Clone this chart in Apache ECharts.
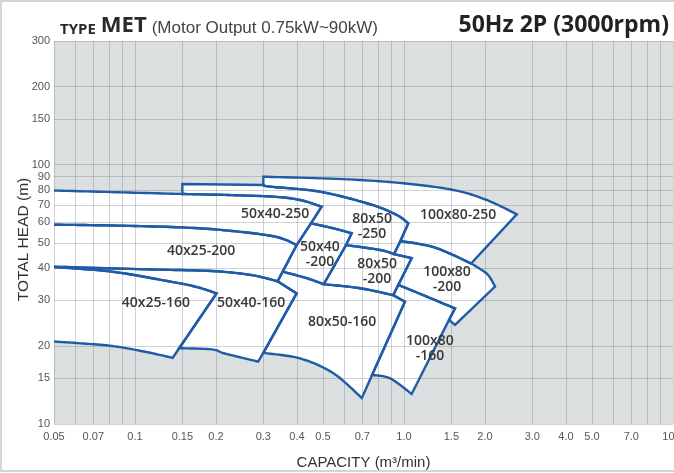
<!DOCTYPE html>
<html><head><meta charset="utf-8">
<script src="https://cdn.jsdelivr.net/npm/echarts@6/dist/echarts.min.js"></script>
<style>html,body{margin:0;padding:0;background:#fff}#c{width:674px;height:473px}</style>
</head><body><div id="c"></div>
<script>
// ---------- axis ticks ----------
const xTickValues = [0.05,0.07,0.1,0.15,0.2,0.3,0.4,0.5,0.7,1,1.5,2,3,4,5,7,10];
const xTickLabels = ['0.05','0.07','0.1','0.15','0.2','0.3','0.4','0.5','0.7','1.0','1.5','2.0','3.0','4.0','5.0','7.0','10.0'];
const xGridValues = [0.05,0.06,0.07,0.08,0.09,0.1,0.15,0.2,0.3,0.4,0.5,0.6,0.7,0.8,0.9,1,1.5,2,3,4,5,6,7,8,9,10];
const yTickValues = [10,15,20,30,40,50,60,70,80,90,100,150,200,300];

// ---------- boundary curves [capacity m3/min, head m] ----------
// 40x25-160
const e1_top = [[0.045,40.5],[0.05,40.3],[0.082,38.7],[0.126,35.9],[0.167,33.9],[0.201,31.9]];
const e1_rightA = [[0.201,31.9],[0.146,19.6]];
const e1_rightB = [[0.146,19.6],[0.138,18.0]];
const e1_bot = [[0.138,18.0],[0.109,19.0],[0.082,20.0],[0.0616,20.5],[0.05,20.8],[0.045,20.9]];
// 50x40-160
const e2_top = [[0.045,40.5],[0.05,40.4],[0.109,39.5],[0.193,38.9],[0.272,37.5],[0.339,35.5]];
const e2_top2 = [[0.339,35.5],[0.399,31.9]];
const e2_rightA = [[0.399,31.9],[0.300,18.8]];
const e2_rightB = [[0.300,18.8],[0.287,17.4]];
const e2_bot = [[0.287,17.4],[0.216,18.7],[0.193,19.4],[0.146,19.6]];
// 40x25-200
const e3_top = [[0.045,58.8],[0.05,58.7],[0.082,58.3],[0.149,57.3],[0.222,55.7],[0.332,52.8],[0.399,49.0]];
const e3_rightA = [[0.399,49.0],[0.354,38.7]];
const e3_rightB = [[0.354,38.7],[0.339,35.5]];
// 50x40-250
const e4_topA = [[0.045,79.6],[0.05,79.5],[0.09,78.2],[0.15,77.1]];
const e4_topB = [[0.15,77.1],[0.222,76.4],[0.327,75.3],[0.411,73.1],[0.494,68.9]];
const e4_rightA = [[0.494,68.9],[0.451,59.4]];
const e4_rightB = [[0.451,59.4],[0.399,49.0]];
// 80x50-250
const e5_left = [[0.15,77.1],[0.15,84.2]];
const e5_topA = [[0.15,84.2],[0.300,83.5]];
const e5_topB = [[0.300,83.5],[0.318,82.3],[0.487,78.7],[0.748,70.4],[0.940,64.0],[1.037,59.4]];
const e5_rightA = [[1.037,59.4],[0.970,50.8]];
const e5_rightB = [[0.970,50.8],[0.918,45.2]];
// 50x40-200
const e6_top = [[0.451,59.4],[0.540,57.0],[0.639,54.4]];
const e6_rightA = [[0.639,54.4],[0.609,49.0]];
const e6_rightB = [[0.609,49.0],[0.503,34.6]];
const e6_bot = [[0.503,34.6],[0.435,36.5],[0.354,38.7]];
// 80x50-200
const e7_topA = [[0.609,49.0],[0.815,46.9],[0.918,45.2]];
const e7_topB = [[0.918,45.2],[1.068,43.6]];
const e7_rightA = [[1.068,43.6],[0.953,34.4]];
const e7_rightB = [[0.953,34.4],[0.912,31.4]];
const e7_bot = [[0.912,31.4],[0.686,33.4],[0.503,34.6]];
// 80x50-160
const e8_topR = [[0.912,31.4],[1.008,29.6]];
const e8_rightA = [[1.008,29.6],[0.761,15.45]];
const e8_rightB = [[0.761,15.45],[0.697,12.6]];
const e8_bot = [[0.697,12.6],[0.546,15.7],[0.411,17.9],[0.300,18.8]];
// 100x80-250
const e9_left = [[0.300,83.5],[0.300,89.9]];
const e9_top = [[0.300,89.9],[0.59,88.0],[0.994,84.8],[1.525,79.9],[2.03,73.1],[2.625,64.4]];
const e9_right = [[2.625,64.4],[1.775,41.6]];
// 100x80-200
const e10_topA = [[0.970,50.8],[1.304,47.9],[1.775,41.6]];
const e10_topB = [[1.775,41.6],[2.036,37.9],[2.180,33.9]];
const e10_right = [[2.180,33.9],[1.548,24.1]];
const e10_step = [[1.548,24.1],[1.470,25.2]];
// 100x80-160
const e11_top = [[0.953,34.4],[1.197,31.2],[1.548,27.9]];
const e11_rightA = [[1.548,27.9],[1.470,25.2]];
const e11_rightB = [[1.470,25.2],[1.068,13.05]];
const e11_bot = [[1.068,13.05],[0.888,15.0],[0.761,15.45]];

const regionNames = ['40x25-160','50x40-160','40x25-200','50x40-250','80x50\n-250','100x80-250','50x40\n-200','80x50\n-200','100x80\n-200','80x50-160','100x80\n-160'];
const labelAnchors = [[0.1197,29.3],[0.270,29.3],[0.176,46.5],[0.332,64.5],[0.761,57.8],[1.589,64.0],[0.487,45.2],[0.794,38.9],[1.445,36.2],[0.589,24.7],[1.249,19.6]];

// ---------- region outlines built from the curves ----------
const rev = a => a.slice().reverse();
const regions = [
  [e1_top, e1_rightA, e1_rightB, e1_bot],
  [e2_top, e2_top2, e2_rightA, e2_rightB, e2_bot, rev(e1_rightA), rev(e1_top)],
  [e3_top, e3_rightA, e3_rightB, rev(e2_top)],
  [e4_topA, e4_topB, e4_rightA, e4_rightB, rev(e3_top)],
  [e5_left, e5_topA, e5_topB, e5_rightA, e5_rightB, rev(e7_topA), rev(e6_rightA), rev(e6_top), rev(e4_rightA), rev(e4_topB)],
  [e9_left, e9_top, e9_right, rev(e10_topA), rev(e5_rightA), rev(e5_topB)],
  [e6_top, e6_rightA, e6_rightB, e6_bot, rev(e3_rightA), rev(e4_rightB)],
  [e7_topA, e7_topB, e7_rightA, e7_rightB, e7_bot, rev(e6_rightB)],
  [e10_topA, e10_topB, e10_right, e10_step, rev(e11_rightA), rev(e11_top), rev(e7_rightA), rev(e7_topB), rev(e5_rightB)],
  [rev(e3_rightB), rev(e6_bot), rev(e7_bot), e8_topR, e8_rightA, e8_rightB, e8_bot, rev(e2_rightA), rev(e2_top2)],
  [e11_top, e11_rightA, e11_rightB, e11_bot, rev(e8_rightA), rev(e8_topR), rev(e7_rightB)]
];

function smoothPts(p) {
  if (p.length < 3) return p.slice();
  const out = [p[0]];
  for (let i = 0; i < p.length - 1; i++) {
    const p0 = p[i - 1] || p[i], p1 = p[i], p2 = p[i + 1], p3 = p[i + 2] || p[i + 1];
    for (let t = 1; t <= 12; t++) {
      const s = t / 12, s2 = s * s, s3 = s2 * s;
      const f = k => 0.5 * (2 * p1[k] + (-p0[k] + p2[k]) * s + (2 * p0[k] - 5 * p1[k] + 4 * p2[k] - p3[k]) * s2 + (-p0[k] + 3 * p1[k] - 3 * p2[k] + p3[k]) * s3);
      out.push([f(0), f(1)]);
    }
  }
  return out;
}
function buildPath(edges, api) {
  const pts = [];
  edges.forEach(e => {
    const px = smoothPts(e.map(d => api.coord(d)));
    px.forEach((q, j) => { if (j === 0 && pts.length) return; pts.push(q); });
  });
  return pts;
}

const regionData = regions.map((r, i) => [r[0][1][0], r[0][1][1], i]);
const BLUE = '#1f5ba8';
const GRID_LINE = 'rgba(100,110,115,0.30)';

const chart = echarts.init(document.getElementById('c'), null, {renderer: 'canvas'});
chart.setOption({
  animation: false,
  backgroundColor: '#fff',
  title: [
    {left: 55, top: 8, text: '{a|TYPE} {b|MET} {c|(Motor Output 0.75kW~90kW)}',
     textStyle: {rich: {
       a: {fontFamily: 'Open Sans', fontWeight: 'bold', fontSize: 15, color: '#2a2a2a', verticalAlign: 'bottom', lineHeight: 24},
       b: {fontFamily: 'Open Sans', fontWeight: 'bold', fontSize: 22, color: '#2a2a2a', verticalAlign: 'bottom', lineHeight: 24},
       c: {fontFamily: 'Liberation Sans', fontWeight: 'normal', fontSize: 17, color: '#444', verticalAlign: 'bottom', lineHeight: 24}
     }}},
    {right: 0, top: 9, text: '50Hz 2P (3000rpm)',
     textStyle: {fontFamily: 'Open Sans', fontWeight: 'bold', fontSize: 23, color: '#222'}}
  ],
  graphic: [{type: 'rect', shape: {x: 1, y: 1, width: 690, height: 470}, style: {fill: 'none', stroke: '#d3d6d8', lineWidth: 2}, silent: true}],
  grid: {left: 54, right: 1, top: 41, bottom: 49, show: true, backgroundColor: '#dcdfe0', borderWidth: 0, outerBoundsMode: 'none', containLabel: false},
  xAxis: {
    type: 'log', logBase: 10, min: 0.05, max: 10, z: 3,
    name: 'CAPACITY (m³/min)', nameLocation: 'middle', nameGap: 31, nameMoveOverlap: false,
    nameTextStyle: {fontFamily: 'Liberation Sans', fontSize: 15, color: '#333'},
    axisLine: {show: false},
    axisTick: {show: false, customValues: xGridValues},
    splitLine: {show: true, lineStyle: {color: GRID_LINE, width: 1}},
    axisLabel: {customValues: xTickValues, margin: 7, fontFamily: 'Liberation Sans', fontSize: 11, color: '#555', hideOverlap: false,
      formatter: v => { let bi = 0; xTickValues.forEach((t, i) => { if (Math.abs(Math.log(t) - Math.log(v)) < Math.abs(Math.log(xTickValues[bi]) - Math.log(v))) bi = i; }); return xTickLabels[bi]; }}
  },
  yAxis: {
    type: 'log', logBase: 10, min: 10, max: 300, z: 3,
    name: 'TOTAL HEAD (m)', nameLocation: 'middle', nameGap: 22, nameRotate: 90, nameMoveOverlap: false,
    nameTextStyle: {fontFamily: 'Liberation Sans', fontSize: 15.5, color: '#333', padding: [0, 14, 0, 0]},
    axisLine: {show: false},
    axisTick: {show: false, customValues: yTickValues},
    splitLine: {show: true, lineStyle: {color: GRID_LINE, width: 1}},
    axisLabel: {customValues: yTickValues, margin: 4, fontFamily: 'Liberation Sans', fontSize: 11, color: '#555', hideOverlap: false,
      formatter: v => String(Math.round(v))}
  },
  series: [
    {type: 'custom', name: 'fill', z: 1, clip: true, data: regionData, encode: {x: 0, y: 1},
     renderItem: (params, api) => ({type: 'polygon', shape: {points: buildPath(regions[api.value(2)], api)}, style: {fill: '#ffffff', stroke: '#ffffff', lineWidth: 1}})},
    {type: 'custom', name: 'border', z: 5, clip: true, data: regionData, encode: {x: 0, y: 1},
     renderItem: (params, api) => ({type: 'polygon', shape: {points: buildPath(regions[api.value(2)], api)}, style: {fill: 'none', stroke: BLUE, lineWidth: 2.4, lineJoin: 'miter'}})},
    {type: 'custom', name: 'labels', z: 6, clip: false,
     data: labelAnchors.map((p, i) => [p[0], p[1], i]), encode: {x: 0, y: 1},
     renderItem: (params, api) => {
       const c = api.coord([api.value(0), api.value(1)]);
       return {type: 'text', x: c[0], y: c[1], style: {text: regionNames[api.value(2)], fontFamily: 'Open Sans', fontWeight: 600, fontSize: 14, lineHeight: 15, fill: '#383838', align: 'center', verticalAlign: 'middle'}};
     }}
  ]
});
</script></body></html>
